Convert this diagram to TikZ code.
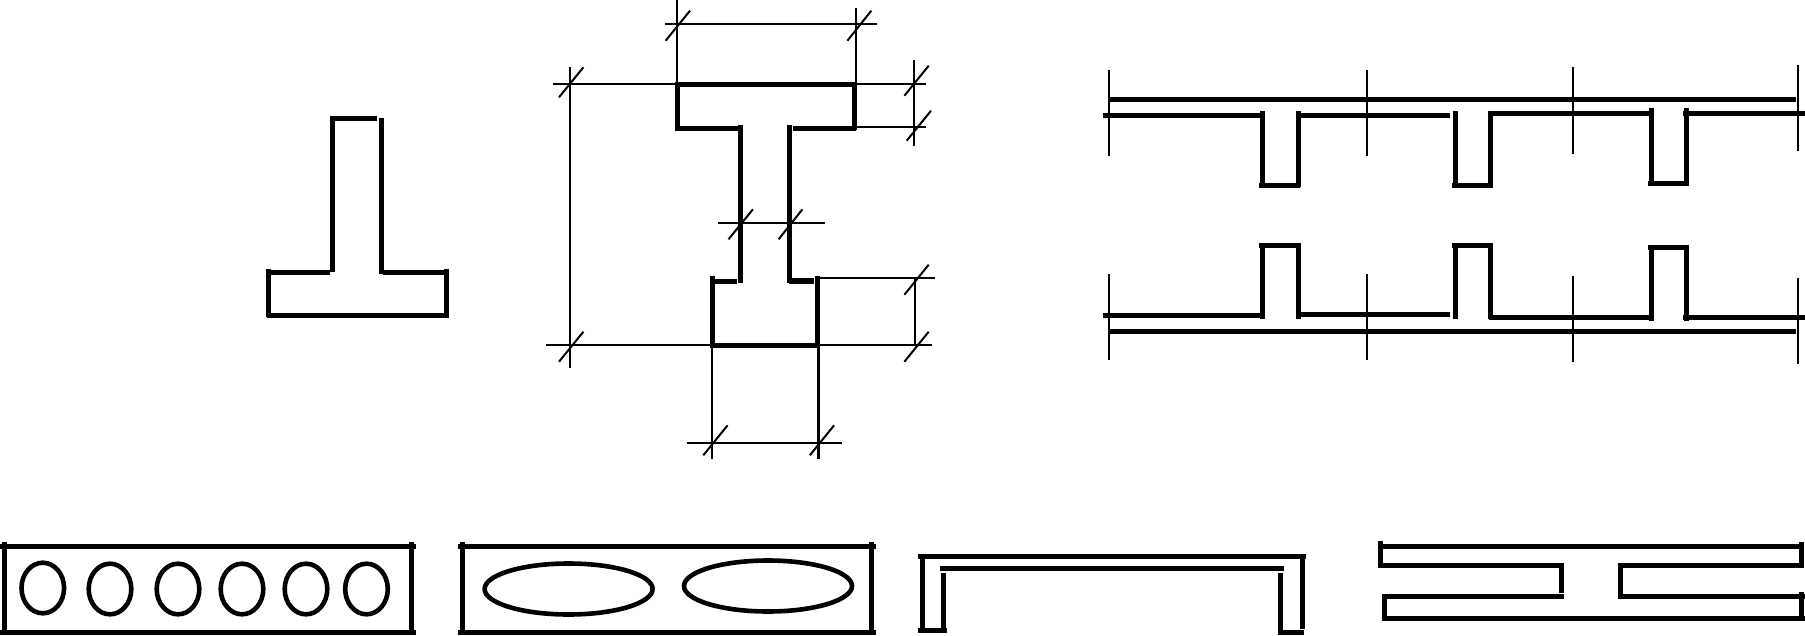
\documentclass[tikz,border=0pt]{standalone}
\tikzset{
  wall/.style={line width=5pt,black,line cap=butt},
  dimline/.style={line width=2.2pt,black,line cap=butt},
  hole/.style={line width=4.6pt,black},
  tickmark/.style={line width=2pt,black,line cap=butt},
}
\begin{document}
\begin{tikzpicture}[x=1pt,y=-1pt]
\useasboundingbox (0,0) rectangle (1805,635);
\clip (0,0) rectangle (1805,635);
% T section
\foreach \a/\b/\c/\d in {329.5/118.3/376.8/118.3, 332.7/118/332.7/272, 381.4/118/381.4/273.5,
  268.5/272.3/329.5/272.3, 383/272.3/446.6/272.3, 268.5/269.3/268.5/316.7, 446/269.3/446/316.7, 267/315.3/448.5/315.3}
  \draw[wall] (\a,\b) -- (\c,\d);
% I section
\foreach \a/\b/\c/\d in {675/84.3/856/84.3, 677.5/84/677.5/130, 854.3/84/854.3/130,
  675/128/740/128, 793/128/856/128, 740/125.3/740/282.7, 789/125.3/789/283,
  713/281/737/281, 712.5/276/712.5/348.3, 817/276/817/348.3, 712/345.3/817/345.3}
  \draw[wall] (\a,\b) -- (\c,\d);
\draw[wall,line width=6pt] (789,280.7) -- (814,280.7);
% dimensions of the I section
\foreach \a/\b/\c/\d in {676.6/0/676.6/83, 855.7/8/855.7/83, 665/24/877/24,
  553/84/676/84, 569.7/67.3/569.7/368.3, 545.8/344.7/712/344.7,
  856/84/925.5/84, 856/127/925.5/127, 914/60/914/145.7,
  817/277.7/935/277.7, 817/344.7/932.4/344.7, 915/277.7/915/345,
  718/222.7/824.5/222.7,
  712/348/712/459.3, 818.5/348/818.5/459.3, 686.7/443/841.5/443}
  \draw[dimline] (\a,\b) -- (\c,\d);
\foreach \a/\b/\c/\d in {665.6/40.7/690/10.7, 847.4/40.7/871.3/10.7,
  559/97.3/583.4/67.3, 559/361.7/583.4/331.7,
  904.4/95.7/928.7/65.7, 906.7/140.7/931/110.7,
  904.4/294.7/928.7/264.7, 904.4/361.7/928.7/331.7,
  728.5/239.3/752.9/209.3, 778.6/239.3/802.4/209.3,
  703.3/455.3/727.6/425.3, 809.8/455.3/834.1/425.3}
  \draw[tickmark] (\a,\b) -- (\c,\d);
% ribbed slabs: axes
\foreach \a/\b/\d in {1108.7/70/156, 1366.8/70/156, 1572.9/67.3/154, 1797.7/65/150.7,
  1108.7/274/360, 1366.8/274/360, 1572.9/276/362, 1797.7/278/364}
  \draw[dimline] (\a,\b) -- (\a,\d);
% ribbed slab, ribs down
\foreach \a/\b/\c/\d in {1108/99.3/1796/99.3,
  1103/115.3/1263/115.3, 1298/115.3/1450/115.3, 1489/113.3/1651/113.3, 1683/113.3/1805/113.3,
  1262/111/1262/187.3, 1298/111/1298/187.3, 1259/185.3/1300/185.3,
  1455/111/1455/187.3, 1490.4/111/1490.4/187.3, 1452/185.3/1493/185.3,
  1651/108/1651/185.3, 1686.4/108/1686.4/185.3, 1648/183.3/1689/183.3}
  \draw[wall] (\a,\b) -- (\c,\d);
% ribbed slab, ribs up
\foreach \a/\b/\c/\d in {1108/331.3/1796/331.3,
  1103/315.3/1263/315.3, 1298/314.3/1450/314.3, 1489/317.3/1651/317.3, 1683/317.3/1805/317.3,
  1262/243.3/1262/318.7, 1298/243.3/1298/318.7, 1259/245.3/1300/245.3,
  1455/243.3/1455/318.7, 1490.4/243.3/1490.4/319, 1452/245.3/1493/245.3,
  1651/245.3/1651/320.7, 1686.4/245.3/1686.4/320.7, 1648/247.3/1689/247.3}
  \draw[wall] (\a,\b) -- (\c,\d);
% hollow-core panel, round voids
\foreach \a/\b/\c/\d in {0/546/415.6/546, 4/542/4/635, 411.6/542/411.6/635, 0/632.7/415.6/632.7}
  \draw[wall] (\a,\b) -- (\c,\d);
\foreach \cx/\cy in {42.8/588, 110/589, 178/589, 242/589, 306/589, 366.5/589}
  \draw[hole] (\cx,\cy) ellipse [x radius=21.3pt, y radius=25.3pt];
% hollow-core panel, oval voids
\foreach \a/\b/\c/\d in {457.5/546/876/546, 462/542/462/635, 871.4/542/871.4/635, 457.5/632.7/876/632.7}
  \draw[wall] (\a,\b) -- (\c,\d);
\foreach \cx/\cy in {568.6/589, 768/586}
  \draw[hole] (\cx,\cy) ellipse [x radius=84pt, y radius=25.5pt];
% channel panel
\foreach \a/\b/\c/\d in {918/556.3/1305.7/556.3, 922/556/922/631, 1302.8/556/1302.8/629,
  940/568.3/1283.7/568.3, 943.9/572.7/943.9/632, 1280.8/572.7/1280.8/634.3,
  918/630.3/946.7/630.3, 1278/632.7/1304/632.7}
  \draw[wall] (\a,\b) -- (\c,\d);
% double-tee panel
\foreach \a/\b/\c/\d in {1379/546.3/1803/546.3, 1380.7/541/1380.7/567.7, 1801.3/542/1801.3/567.7,
  1379/565.3/1563.6/565.3, 1618.4/565.3/1803/565.3, 1561.3/563/1561.3/593.3, 1620.7/563/1620.7/598,
  1382.4/596/1563.6/596, 1618.4/596/1805/596, 1384.7/594/1384.7/621, 1801.3/592/1801.3/621,
  1382/618.3/1805/618.3}
  \draw[wall] (\a,\b) -- (\c,\d);
\end{tikzpicture}
\end{document}
